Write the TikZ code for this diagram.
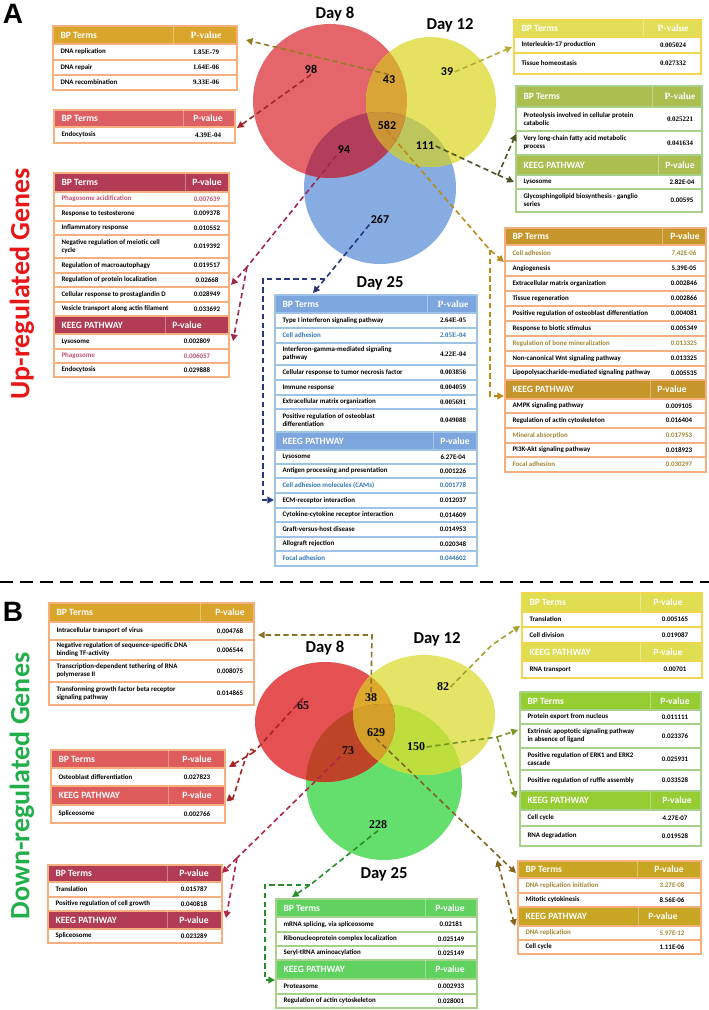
\documentclass[tikz,border=0pt]{standalone}
\usepackage{fontspec}
\setmainfont{Carlito}
\newfontfamily\tms{Liberation Serif}
\newfontfamily\arl{Liberation Sans}
\usetikzlibrary{arrows.meta}

% venn colours
\definecolor{vred}{RGB}{228,102,106}
\definecolor{vyel}{RGB}{228,226,96}
\definecolor{vblue}{RGB}{134,172,226}
\definecolor{vry}{RGB}{218,165,55}
\definecolor{vrb}{RGB}{178,62,92}
\definecolor{vyb}{RGB}{188,198,92}
\definecolor{vall}{RGB}{203,148,55}
\definecolor{bred}{RGB}{229,80,82}
\definecolor{byel}{RGB}{228,228,102}
\definecolor{bgrn}{RGB}{100,222,108}
\definecolor{bry}{RGB}{222,170,45}
\definecolor{brg}{RGB}{190,68,40}
\definecolor{byg}{RGB}{190,222,62}
\definecolor{ball}{RGB}{212,160,42}
% table colours
\definecolor{lorange}{RGB}{246,176,128}
\definecolor{ybord}{RGB}{242,214,80}
\definecolor{lgreen}{RGB}{168,210,140}
\definecolor{lblue}{RGB}{157,195,230}
\definecolor{hgold}{RGB}{217,165,43}
\definecolor{hred}{RGB}{222,95,99}
\definecolor{hcrim}{RGB}{178,60,85}
\definecolor{hyel}{RGB}{226,222,88}
\definecolor{holive}{RGB}{172,190,80}
\definecolor{hgold2}{RGB}{198,150,44}
\definecolor{hblue}{RGB}{125,165,222}
\definecolor{hredb}{RGB}{222,92,92}
\definecolor{hyelb}{RGB}{222,222,80}
\definecolor{hlime}{RGB}{150,205,50}
\definecolor{hgold3}{RGB}{200,165,35}
\definecolor{hgrn}{RGB}{95,210,95}
\definecolor{pinkt}{RGB}{192,80,110}
\definecolor{olivet}{RGB}{160,135,50}
\definecolor{bluet}{RGB}{46,117,182}
% connector colours
\definecolor{c43}{RGB}{150,125,35}
\definecolor{c39}{RGB}{180,170,50}
\definecolor{c98}{RGB}{160,40,40}
\definecolor{c94}{RGB}{160,40,75}
\definecolor{c267}{RGB}{40,55,120}
\definecolor{c111}{RGB}{75,85,40}
\definecolor{c582}{RGB}{185,140,25}
\definecolor{c38}{RGB}{140,115,40}
\definecolor{c82}{RGB}{165,160,50}
\definecolor{c150}{RGB}{120,150,40}
\definecolor{c65}{RGB}{165,35,35}
\definecolor{c73}{RGB}{175,40,70}
\definecolor{c228}{RGB}{40,140,40}
\definecolor{c629}{RGB}{130,100,30}
\definecolor{upred}{RGB}{232,22,22}
\definecolor{dngrn}{RGB}{34,175,75}

\tikzset{every picture/.style={line width=0.75pt}}
\tikzset{
  rt/.style={inner sep=0pt, font=\fontsize{5.2}{5.9}\selectfont\bfseries, align=left},
  vt/.style={inner sep=0pt, font=\fontsize{5.2}{5.9}\selectfont\bfseries},
  hd/.style={inner sep=0pt, text=white, font=\fontsize{7.2}{8}\selectfont\bfseries},
  num/.style={inner sep=0.75pt, font=\fontsize{9}{9}\selectfont\bfseries},
  numb/.style={inner sep=0.75pt, font=\tms\fontsize{9}{9}\selectfont\bfseries},
  day/.style={inner sep=0.75pt, font=\fontsize{12.5}{13}\selectfont\bfseries},
  lnk/.style={dash pattern=on 4pt off 2.6pt, line width=1.2pt},
  tip/.style={-{Triangle[length=5pt,width=5pt]}},
  twotip/.style={{Triangle[length=5pt,width=5pt]}-{Triangle[length=5pt,width=5pt]}},
}

% table helpers: left x, right x, border colour, value x
\newcounter{rw}
\newcommand{\tabset}[4]{\def\tL{#1}\def\tR{#2}\def\tB{#3}\def\tV{#4}}
% header: y1, y2, fill, divider x, left text, right text, right x
\newcommand{\thead}[7]{%
  \filldraw[fill=#3, draw=\tB, line width=0.8] (\tL,#1) rectangle (\tR,#2);
  \draw[white, opacity=0.35, line width=0.5] (#4,#1) -- (#4,#2);
  \stepcounter{rw}%
  \node[hd, anchor=west] (hl\therw) at ({\tL+7},{(#1+#2)/2}) {#5};
  \node[hd] (hr\therw) at (#7,{(#1+#2)/2}) {#6};}
% row: y1, y2, term, value
\newcommand{\trow}[4]{%
  \draw[draw=\tB, line width=0.8] (\tL,#1) rectangle (\tR,#2);
  \stepcounter{rw}%
  \node[rt, anchor=west] (rl\therw) at ({\tL+7},{(#1+#2)/2}) {#3};
  \node[vt] (rv\therw) at (\tV,{(#1+#2)/2}) {#4};}

\begin{document}
\begin{tikzpicture}[x=0.75pt,y=0.75pt,yscale=-1,xscale=1]
\useasboundingbox (0,0) rectangle (709,1010);

% ---------------- panel A ----------------
% Text Node
\node[font=\arl\fontsize{21}{21}\selectfont\bfseries, inner sep=0pt] (pA) at (13,14) {A};
\node[rotate=90, text=upred, font=\fontsize{21}{21}\selectfont\bfseries, inner sep=0pt] (up) at (22,284) {Up-regulated Genes};

%Shape: Venn A
\fill[vblue] (380,188) circle [radius=76];
\fill[vred] (330,101) circle [radius=77];
\fill[vyel] (431,102) circle [radius=65];
\begin{scope}
\clip (431,102) circle [radius=65];
\fill[vyb] (380,188) circle [radius=76];
\end{scope}
\begin{scope}
\clip (330,101) circle [radius=77];
\fill[vry] (431,102) circle [radius=65];
\fill[vrb] (380,188) circle [radius=76];
\clip (431,102) circle [radius=65];
\fill[vall] (380,188) circle [radius=76];
\end{scope}

% Text Node
\node[day] (dA8) at (335,14) {Day 8};
\node[day] (dA12) at (450,25) {Day 12};
\node[day] (dA25) at (380,283) {Day 25};
\node[num] (n98) at (311,69) {98};
\node[num] (n43) at (389,80) {43};
\node[num] (n39) at (447,72) {39};
\node[num] (n582) at (387,125) {582};
\node[num] (n94) at (344,150) {94};
\node[num] (n111) at (425,146) {111};
\node[num] (n267) at (380,219) {267};

%Table: 43
\tabset{53}{237}{lorange}{206}
\thead{26}{44}{hgold}{173}{BP Terms}{\tms P-value}{206}
\trow{44}{60}{DNA replication}{\tms 1.85E-79}
\trow{60}{75}{DNA repair}{\tms 1.64E-06}
\trow{75}{90}{DNA recombination}{\tms 9.33E-06}

%Table: 98
\tabset{54}{235}{lorange}{208}
\thead{110}{127}{hred}{183}{BP Terms}{P-value}{208}
\trow{127}{143}{Endocytosis}{\tms 4.39E-04}

%Table: 94
\tabset{54}{229}{lorange}{207}
\thead{173}{192}{hcrim}{185}{BP Terms}{P-value}{207}
\trow{192}{206}{\color{pinkt}Phagosome acidification}{\color{pinkt}0.007639}
\trow{206}{221}{Response to testosterone}{0.009378}
\trow{221}{235}{Inflammatory response}{0.010552}
\trow{235}{258}{Negative regulation of meiotic cell\\cycle}{0.019392}
\trow{258}{273}{Regulation of macroautophagy}{0.019517}
\trow{273}{287}{Regulation of protein localization}{0.02668}
\trow{287}{302}{Cellular response to prostaglandin D}{0.028949}
\trow{302}{316}{Vesicle transport along actin filament}{0.033692}
\thead{316}{334}{hcrim}{165}{KEEG PATHWAY}{P-value}{187}
\def\tV{197}
\trow{334}{349}{Lysosome}{0.002809}
\trow{349}{363}{\color{pinkt}Phagosome}{\color{pinkt}0.006057}
\trow{363}{377}{Endocytosis}{0.029888}

%Table: 39
\tabset{514}{701}{ybord}{673}
\thead{20}{37}{hyel}{643}{BP Terms}{\tms P-value}{673}
\trow{37}{53}{Interleukin-17 production}{\tms 0.005024}
\trow{53}{74}{Tissue homeostasis}{\tms 0.027332}

%Table: 111
\tabset{516}{702}{lgreen}{680}
\thead{86}{107}{holive}{652}{BP Terms}{\tms P-value}{680}
\trow{107}{131}{Proteolysis involved in cellular protein\\catabolic}{\tms 0.025221}
\trow{131}{155}{Very long-chain fatty acid metabolic\\process}{\tms 0.041634}
\thead{155}{175}{holive}{658}{KEEG PATHWAY}{P-value}{680}
\def\tV{682}
\trow{175}{189}{Lysosome}{2.82E-04}
\trow{189}{212}{Glycosphingolipid biosynthesis - ganglio\\series}{0.00595}

%Table: 582
\tabset{505}{706}{lorange}{684}
\thead{228}{245}{hgold2}{662}{BP Terms}{P-value}{685}
\trow{245}{261}{\color{olivet}Cell adhesion}{\color{olivet}7.42E-06}
\trow{261}{276}{Angiogenesis}{5.39E-05}
\trow{276}{291}{Extracellular matrix organization}{0.002846}
\trow{291}{306}{Tissue regeneration}{0.002866}
\trow{306}{321}{Positive regulation of osteoblast differentiation}{0.004081}
\trow{321}{336}{Response to biotic stimulus}{0.005349}
\trow{336}{351}{\color{olivet}Regulation of bone mineralization}{\color{olivet}0.013325}
\trow{351}{366}{Non-canonical Wnt signaling pathway}{0.013325}
\trow{366}{380}{Lipopolysaccharide-mediated signaling pathway}{0.005535}
\thead{380}{399}{hgold2}{650}{KEEG PATHWAY}{P-value}{672}
\def\tV{679}
\trow{399}{413}{AMPK signaling pathway}{0.009105}
\trow{413}{428}{Regulation of actin cytoskeleton}{0.016404}
\trow{428}{443}{\color{olivet}Mineral absorption}{\color{olivet}0.017953}
\trow{443}{457}{PI3K-Akt signaling pathway}{0.018923}
\trow{457}{472}{\color{olivet}Focal adhesion}{\color{olivet}0.030297}

%Table: 267
\tabset{275}{477}{lblue}{453}
\thead{295}{313}{hblue}{427}{BP Terms}{\tms P-value}{453}
\trow{313}{328}{Type I interferon signaling pathway}{\tms 2.64E-05}
\trow{328}{343}{\color{bluet}Cell adhesion}{\tms\color{bluet}2.05E-04}
\trow{343}{365}{Interferon-gamma-mediated signaling\\pathway}{\tms 4.22E-04}
\trow{365}{380}{Cellular response to tumor necrosis factor}{\tms 0.003856}
\trow{380}{395}{Immune response}{\tms 0.004059}
\trow{395}{409}{Extracellular matrix organization}{\tms 0.005691}
\trow{409}{432}{Positive regulation of osteoblast\\differentiation}{\tms 0.049088}
\thead{432}{450}{hblue}{433}{KEEG PATHWAY}{P-value}{455}
\trow{450}{464}{Lysosome}{6.27E-04}
\trow{464}{478}{Antigen processing and presentation}{0.001226}
\trow{478}{493}{\color{bluet}Cell adhesion molecules (CAMs)}{\color{bluet}0.001778}
\trow{493}{508}{ECM-receptor interaction}{0.012037}
\trow{508}{522}{Cytokine-cytokine receptor interaction}{0.014609}
\trow{522}{537}{Graft-versus-host disease}{0.014953}
\trow{537}{551}{Allograft rejection}{0.020348}
\trow{551}{566}{\color{bluet}Focal adhesion}{\color{bluet}0.044602}

% connector ends A
\coordinate (e43) at (246,40);
\coordinate (e39) at (512,47);
\coordinate (e98) at (237,128);
\coordinate (k94) at (247,267);
\coordinate (e94a) at (231,285);
\coordinate (e94b) at (233,341);
\coordinate (k267) at (325,279);
\coordinate (e267a) at (313,293);
\coordinate (e267b) at (274,500);
\coordinate (k111) at (498,175);
\coordinate (e111a) at (516,134);
\coordinate (e111b) at (514,182);
\coordinate (k582) at (490,250);
\coordinate (e582a) at (504,262);
\coordinate (e582b) at (504,396);

%Straight Lines
\draw[lnk, draw=c43, tip] (n43.north) -- (e43);
\draw[lnk, draw=c39, tip] (n39.east) -- (e39);
\draw[lnk, draw=c98, tip] (n98.south) -- (e98);
\draw[lnk, draw=c94] (n94.south west) -- (k94);
\draw[lnk, draw=c94, tip] (k94) -- (e94a);
\draw[lnk, draw=c94, tip] (k94) -- (e94b);
\draw[lnk, draw=c267, tip] (n267.south west) -- (k267) -- (e267a);
\draw[lnk, draw=c267, tip] (k267) -- (263,279) -- (263,500) -- (e267b);
\draw[lnk, draw=c111] (n111.east) -- (k111);
\draw[lnk, draw=c111, tip] (k111) -- (e111a);
\draw[lnk, draw=c111, tip] (k111) -- (e111b);
\draw[lnk, draw=c582, tip] (n582.south) -- (k582) -- (e582a);
\draw[lnk, draw=c582, tip] (k582) -- (490,396) -- (e582b);

% separator
\draw[dash pattern=on 10pt off 5pt, line width=1.6pt] (0,582) -- (709,582);

% ---------------- panel B ----------------
% Text Node
\node[font=\arl\fontsize{21}{21}\selectfont\bfseries, inner sep=0pt] (pB) at (13,612) {B};
\node[rotate=90, text=dngrn, font=\fontsize{21}{21}\selectfont\bfseries, inner sep=0pt] (dn) at (22,786) {Down-regulated Genes};

%Shape: Venn B
\fill[bgrn] (384,782) circle [radius=78];
\fill[bred] (325,722) ellipse [x radius=70, y radius=60];
\fill[byel] (424,715) ellipse [x radius=71, y radius=60];
\begin{scope}
\clip (424,715) ellipse [x radius=71, y radius=60];
\fill[byg] (384,782) circle [radius=78];
\end{scope}
\begin{scope}
\clip (325,722) ellipse [x radius=70, y radius=60];
\fill[bry] (424,715) ellipse [x radius=71, y radius=60];
\fill[brg] (384,782) circle [radius=78];
\clip (424,715) ellipse [x radius=71, y radius=60];
\fill[ball] (384,782) circle [radius=78];
\end{scope}

% Text Node
\node[day] (dB8) at (325,648) {Day 8};
\node[day] (dB12) at (437,639) {Day 12};
\node[day] (dB25) at (384,874) {Day 25};
\node[numb] (m65) at (303,706) {65};
\node[numb] (m38) at (371,698) {38};
\node[numb] (m82) at (443,687) {82};
\node[numb] (m629) at (376,733) {629};
\node[numb] (m73) at (348,751) {73};
\node[numb] (m150) at (416,747) {150};
\node[numb] (m228) at (378,825) {228};

%Table: 38
\tabset{49}{254}{lorange}{230}
\thead{603}{622}{hgold}{200}{BP Terms}{P-value}{230}
\trow{622}{640}{Intracellular transport of virus}{0.004768}
\trow{640}{660}{Negative regulation of sequence-specific DNA\\binding TF-activity}{0.006544}
\trow{660}{682}{Transcription-dependent tethering of RNA\\polymerase II}{0.008075}
\trow{682}{705}{Transforming growth factor beta receptor\\signaling pathway}{0.014865}

%Table: 65
\tabset{51}{225}{lorange}{197}
\thead{750}{768}{hredb}{168}{BP Terms}{P-value}{197}
\trow{768}{786}{Osteoblast differentiation}{0.027823}
\thead{786}{805}{hredb}{168}{KEEG PATHWAY}{P-value}{197}
\trow{805}{823}{Spliceosome}{0.002766}

%Table: 73
\tabset{48}{222}{lorange}{194}
\thead{865}{882}{hcrim}{167}{BP Terms}{P-value}{194}
\trow{882}{897}{Translation}{0.015787}
\trow{897}{911}{Positive regulation of cell growth}{0.040818}
\thead{911}{929}{hcrim}{167}{KEEG PATHWAY}{P-value}{194}
\trow{929}{943}{Spliceosome}{0.023289}

%Table: 82
\tabset{522}{702}{ybord}{675}
\thead{593}{612}{hyelb}{640}{BP Terms}{P-value}{668}
\trow{612}{627}{Translation}{0.005165}
\trow{627}{643}{Cell division}{0.019087}
\thead{643}{661}{hyelb}{640}{KEEG PATHWAY}{P-value}{668}
\trow{661}{678}{RNA transport}{0.00701}

%Table: 150
\tabset{520}{701}{lgreen}{675}
\thead{692}{710}{hlime}{650}{BP Terms}{P-value}{675}
\trow{710}{724}{Protein export from nucleus}{0.011111}
\trow{724}{748}{Extrinsic apoptotic signaling pathway\\in absence of ligand}{0.023376}
\trow{748}{770}{Positive regulation of ERK1 and ERK2\\cascade}{0.025931}
\trow{770}{791}{Positive regulation of ruffle assembly}{0.033528}
\thead{791}{810}{hlime}{650}{KEEG PATHWAY}{P-value}{677}
\trow{810}{826}{Cell cycle}{4.27E-07}
\trow{826}{846}{RNA degradation}{0.019528}

%Table: 629
\tabset{518}{701}{lorange}{672}
\thead{861}{878}{hgold3}{637}{BP Terms}{P-value}{669}
\trow{878}{893}{\color{olivet}DNA replication initiation}{\color{olivet}3.27E-08}
\trow{893}{907}{Mitotic cytokinesis}{8.56E-06}
\thead{907}{926}{hgold3}{638}{KEEG PATHWAY}{P-value}{663}
\trow{926}{940}{\color{olivet}DNA replication}{\color{olivet}5.97E-12}
\trow{940}{954}{Cell cycle}{1.11E-06}

%Table: 228
\tabset{276}{477}{lgreen}{451}
\thead{899}{917}{hgrn}{425}{BP Terms}{P-value}{450}
\trow{917}{932}{mRNA splicing, via spliceosome}{0.02181}
\trow{932}{946}{Ribonucleoprotein complex localization}{0.025149}
\trow{946}{960}{Seryl-tRNA aminoacylation}{0.025149}
\thead{960}{979}{hgrn}{425}{KEEG PATHWAY}{P-value}{450}
\trow{979}{994}{Proteasome}{0.002933}
\trow{994}{1008}{Regulation of actin cytoskeleton}{0.028001}

% connector ends B
\coordinate (e38) at (258,635);
\coordinate (k82) at (492,645);
\coordinate (e82) at (520,626);
\coordinate (k150) at (497,737);
\coordinate (e150a) at (518,730);
\coordinate (e150b) at (516,798);
\coordinate (k65) at (254,752);
\coordinate (e65a) at (229,767);
\coordinate (e65b) at (229,794);
\coordinate (k73) at (237,858);
\coordinate (e73a) at (222,873);
\coordinate (e73b) at (226,918);
\coordinate (k228) at (310,885);
\coordinate (e228a) at (292,897);
\coordinate (e228b) at (275,980);
\coordinate (e629a) at (516,873);
\coordinate (k629) at (497,860);
\coordinate (e629b) at (515,926);

%Straight Lines
\draw[lnk, draw=c38, tip] (m38.north) -- (372,635) -- (e38);
\draw[lnk, draw=c82, tip] (m82.east) -- (k82) -- (e82);
\draw[lnk, draw=c150] (m150.east) -- (k150);
\draw[lnk, draw=c150, tip] (k150) -- (e150a);
\draw[lnk, draw=c150, tip] (k150) -- (e150b);
\draw[lnk, draw=c65] ([yshift=-10pt]m65.south) -- (k65);
\draw[lnk, draw=c65, tip] (k65) -- (e65a);
\draw[lnk, draw=c65, tip] (k65) to[out=-110, in=80] (e65b);
\draw[lnk, draw=c73] (m73.south west) -- (k73);
\draw[lnk, draw=c73, tip] (k73) -- (e73a);
\draw[lnk, draw=c73, tip] (k73) -- (e73b);
\draw[lnk, draw=c228, tip] (m228.south) -- (k228) -- (e228a);
\draw[lnk, draw=c228, tip] (k228) -- (265,885) -- (265,980) -- (e228b);
\draw[lnk, draw=c629, tip] (m629.south) -- (e629a);
\draw[lnk, draw=c629, twotip] (k629) -- (e629b);
\end{tikzpicture}
\end{document}
